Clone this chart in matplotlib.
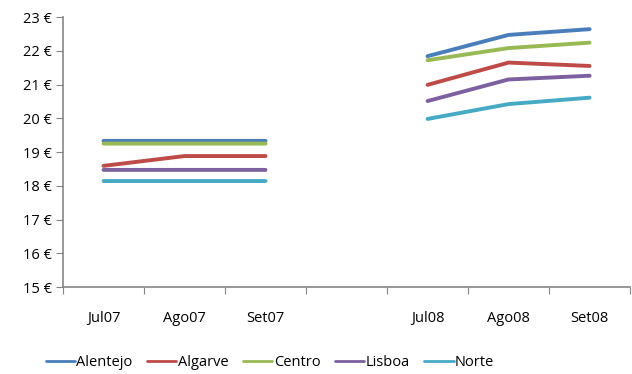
import numpy as np
import matplotlib
matplotlib.use("Agg")
import matplotlib.pyplot as plt

categories = ["Jul07", "Ago07", "Set07", "", "Jul08", "Ago08", "Set08"]
alentejo = [19.33, 19.33, 19.33, np.nan, 21.84, 22.47, 22.64]
algarve  = [18.59, 18.88, 18.88, np.nan, 20.99, 21.65, 21.55]
centro   = [19.25, 19.25, 19.25, np.nan, 21.72, 22.08, 22.24]
lisboa   = [18.47, 18.47, 18.47, np.nan, 20.51, 21.15, 21.26]
norte    = [18.14, 18.14, 18.14, np.nan, 19.98, 20.42, 20.61]
series_names = ["Alentejo", "Algarve", "Centro", "Lisboa", "Norte"]
colors = ["#4A7EBB", "#BE4B48", "#98B954", "#7D60A0", "#46AAC5"]
yticks = list(range(15, 24))

plt.rcParams['font.family'] = ['Open Sans', 'DejaVu Sans']
fig = plt.figure(figsize=(6.32, 3.74), dpi=100)
ax = fig.add_axes([0.0997, 0.2326, 0.8973, 0.7219])

x = np.arange(len(categories))
for name, vals, c in zip(series_names, [alentejo, algarve, centro, lisboa, norte], colors):
    ax.plot(x, vals, color=c, lw=2.8, solid_capstyle='round', solid_joinstyle='round', label=name)

ax.set_xlim(-0.5, len(categories) - 0.5)
ax.set_ylim(15, 23)
ax.set_yticks(yticks)
ax.set_yticklabels([f"{v} €" for v in yticks])
ax.set_xticks(np.arange(-0.5, len(categories), 1.0))
ax.set_xticklabels([])
ax.set_xticks(x, minor=True)
ax.set_xticklabels(categories, minor=True)
ax.tick_params(axis='x', which='minor', length=0, pad=17, labelsize=10.5)
ax.tick_params(axis='x', which='major', length=5, color='#868686', direction='out')
ax.tick_params(axis='y', length=5, color='#868686', direction='out', labelsize=10.5, pad=3)
for s in ['top', 'right']:
    ax.spines[s].set_visible(False)
for s in ['left', 'bottom']:
    ax.spines[s].set_color('#868686')
    ax.spines[s].set_linewidth(1.2)

leg = ax.legend(loc='center', bbox_to_anchor=(0.365, -0.28), ncol=5, frameon=False,
                fontsize=10.5, handlelength=2.0, handletextpad=0.1, columnspacing=1.0)
for h in leg.get_lines():
    h.set_linewidth(2.0)

fig.savefig("out.png", dpi=100)
